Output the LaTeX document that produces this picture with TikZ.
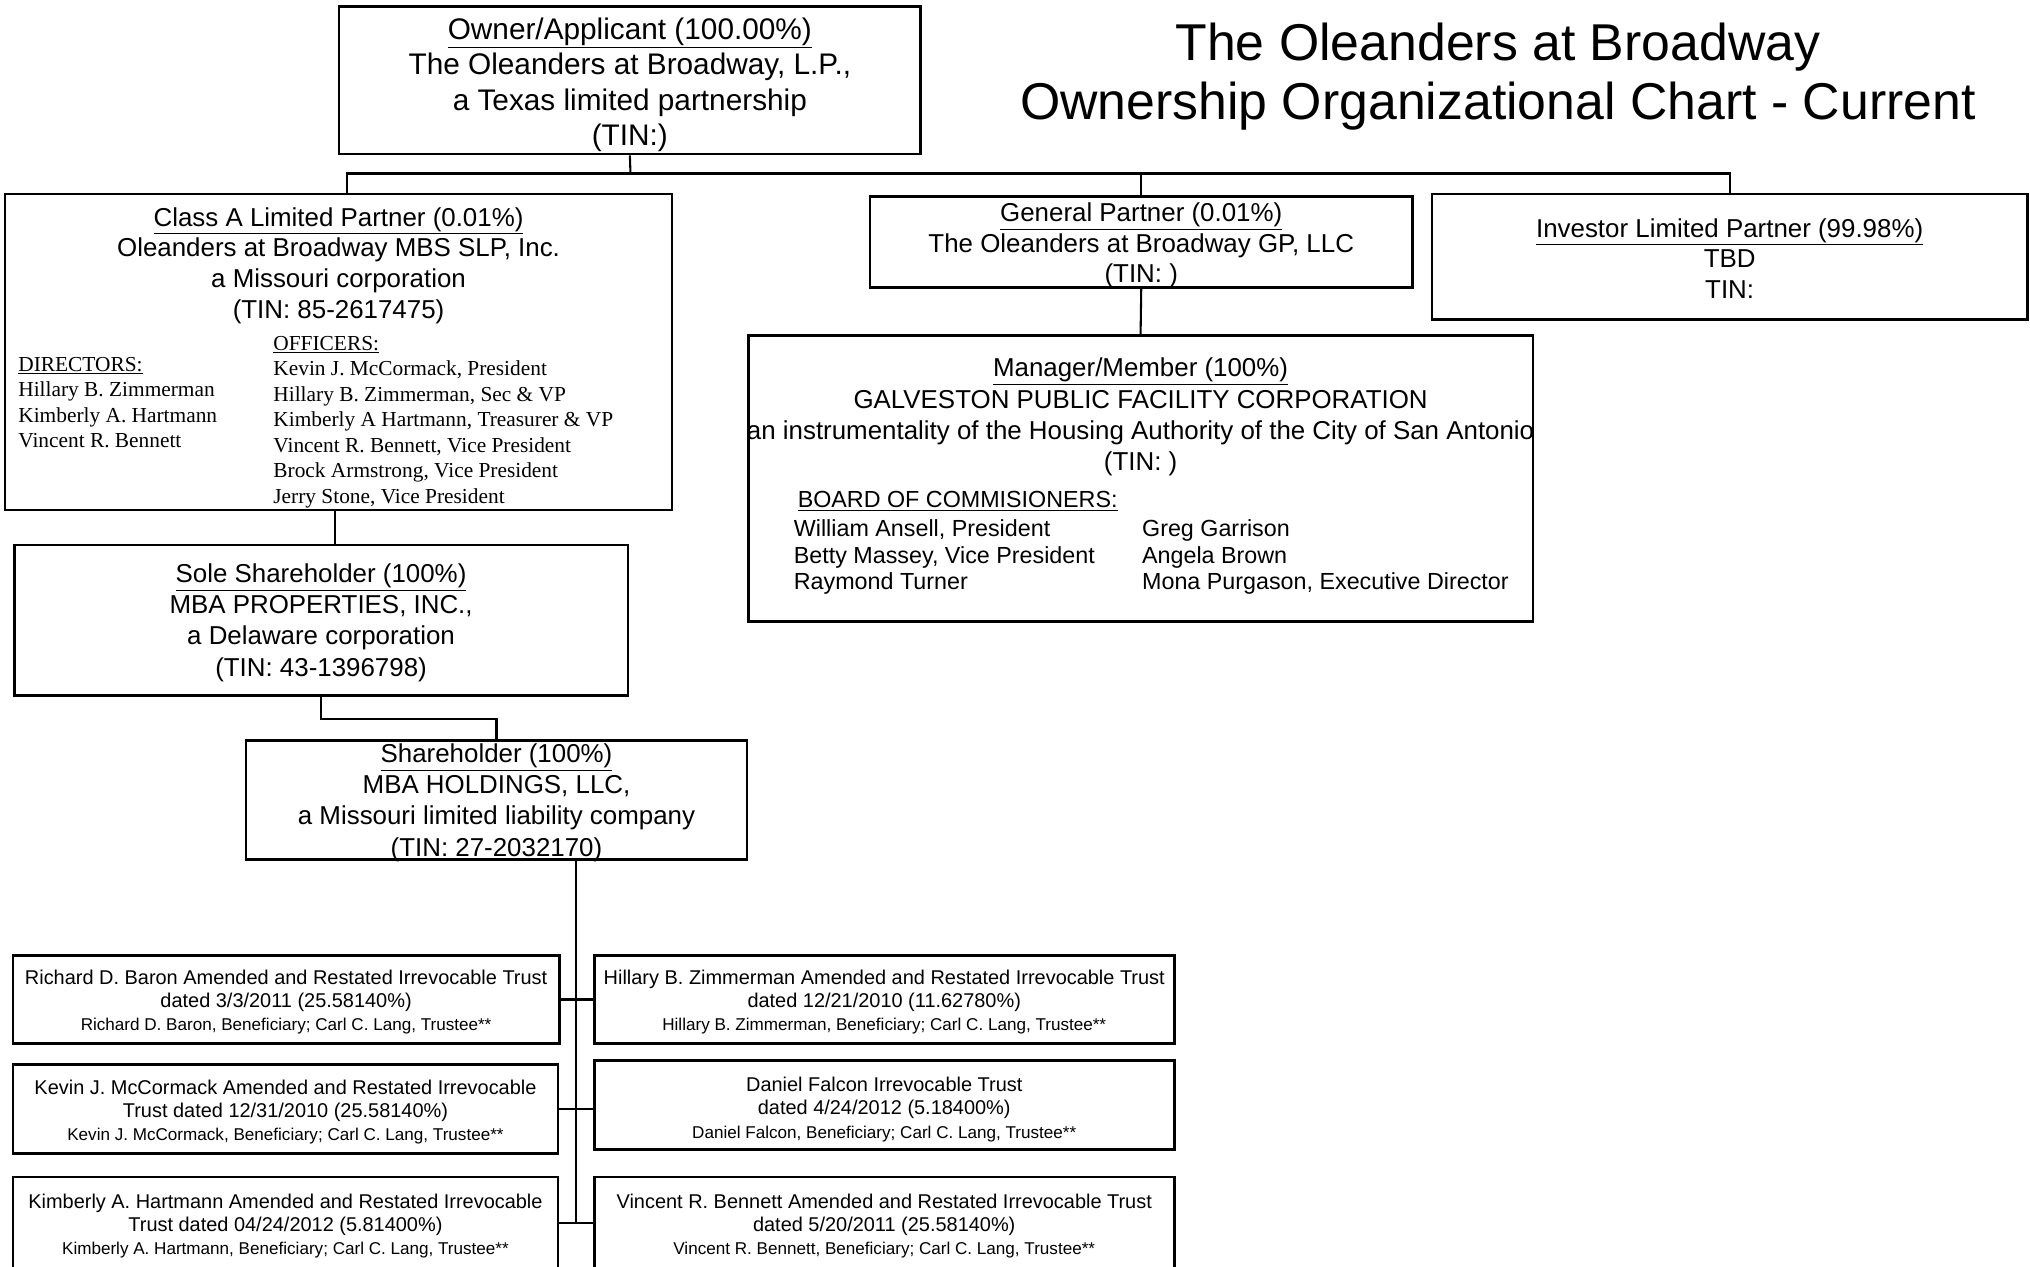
\documentclass[tikz,border=0pt]{standalone}
\usepackage{fontspec}
\setmainfont{Liberation Sans}
\newfontfamily\timesfont{Liberation Serif}
\newcommand{\fsz}[2]{\fontsize{#1}{#2}\selectfont}

\begin{document}
\begin{tikzpicture}[x=1pt,y=-1pt,
	box/.style={draw,line width=2pt,inner sep=0pt},
	txt/.style={inner sep=0pt,align=center},
	wire/.style={line width=1.6pt}]
					%\draw[help lines] (0,0) grid[step=100] (1568,978);
					\useasboundingbox (0,0) rectangle (1568,978);
					\clip (0,0) rectangle (1568,978);
					%TITLE
					\node[txt,font=\fsz{40}{46}] (title) at (1157,59) {The Oleanders at Broadway\\Ownership Organizational Chart - Current};
					%OWNER
					\node[box,minimum width=449,minimum height=114] (owner) at (486.5,62) {};
					\node[txt,font=\fsz{23}{27.3}] (owner-text) at (486.5,65.5) {\underline{Owner/Applicant (100.00\%)}\\The Oleanders at Broadway, L.P.,\\a Texas limited partnership\\(TIN:)};
					%CLASS A LP
					\node[box,minimum width=515,minimum height=244] (classA) at (261.5,272) {};
					\node[txt,font=\fsz{20}{23.7}] (classA-head) at (261.5,205) {\underline{Class A Limited Partner (0.01\%)}\\Oleanders at Broadway MBS SLP, Inc.\\a Missouri corporation\\(TIN: 85-2617475)};
					\node[txt,align=left,anchor=west,font=\timesfont\fsz{16.5}{19.7}] (directors) at (14,311) {\underline{DIRECTORS:}\\Hillary B. Zimmerman\\Kimberly A. Hartmann\\Vincent R. Bennett};
					\node[txt,align=left,anchor=west,font=\timesfont\fsz{16.5}{19.7}] (officers) at (211,326) {\underline{OFFICERS:}\\Kevin J. McCormack, President\\Hillary B. Zimmerman, Sec \& VP\\Kimberly A Hartmann, Treasurer \& VP\\Vincent R. Bennett, Vice President\\Brock Armstrong, Vice President\\Jerry Stone, Vice President};
					%GP + INVESTOR
					\node[box,minimum width=419,minimum height=70] (gp) at (881.5,187) {};
					\node[txt,font=\fsz{20}{23.5}] (gp-text) at (881.5,189.5) {\underline{General Partner (0.01\%)}\\The Oleanders at Broadway GP, LLC\\(TIN: )};
					\node[box,minimum width=460,minimum height=97] (investor) at (1336,198.5) {};
					\node[txt,font=\fsz{20}{23.5}] (investor-text) at (1336,199.5) {\underline{Investor Limited Partner (99.98\%)}\\TBD\\TIN:};
					%MANAGER
					\node[box,minimum width=606,minimum height=221] (manager) at (881,369.5) {};
					\node[txt,font=\fsz{20}{24}] (manager-head) at (881,322) {\underline{Manager/Member (100\%)}\\GALVESTON PUBLIC FACILITY CORPORATION\\an instrumentality of the Housing Authority of the City of San Antonio\\(TIN: )};
					\node[txt,anchor=west,font=\fsz{18}{20.5}] (board) at (616,387) {\underline{BOARD OF COMMISIONERS:}};
					\node[txt,align=left,anchor=west,font=\fsz{18}{20.5}] (board-left) at (613,430.5) {William Ansell, President\\Betty Massey, Vice President\\Raymond Turner};
					\node[txt,align=left,anchor=west,font=\fsz{18}{20.5}] (board-right) at (882,430.5) {Greg Garrison\\Angela Brown\\Mona Purgason, Executive Director};
					%MBA
					\node[box,minimum width=474,minimum height=116] (sole) at (248,479) {};
					\node[txt,font=\fsz{20}{24}] (sole-text) at (248,481) {\underline{Sole Shareholder (100\%)}\\MBA PROPERTIES, INC.,\\a Delaware corporation\\(TIN: 43-1396798)};
					\node[box,minimum width=387,minimum height=92] (holding) at (383.5,618) {};
					\node[txt,font=\fsz{20}{24}] (holding-text) at (383.5,620) {\underline{Shareholder (100\%)}\\MBA HOLDINGS, LLC,\\a Missouri limited liability company\\(TIN: 27-2032170)};
					%TRUSTS
					\node[box,minimum width=422,minimum height=68] (left1) at (221,772) {};
					\node[txt,font=\fsz{15.4}{18}] (left1-text) at (221,774) {Richard D. Baron Amended and Restated Irrevocable Trust\\dated 3/3/2011 (25.58140\%)\\{\fsz{13.2}{15}Richard D. Baron, Beneficiary; Carl C. Lang, Trustee**}};
					\node[box,minimum width=448,minimum height=68] (right1) at (683,772) {};
					\node[txt,font=\fsz{15.4}{18}] (right1-text) at (683,774) {Hillary B. Zimmerman Amended and Restated Irrevocable Trust\\dated 12/21/2010 (11.62780\%)\\{\fsz{13.2}{15}Hillary B. Zimmerman, Beneficiary; Carl C. Lang, Trustee**}};
					\node[box,minimum width=421,minimum height=69] (left2) at (220.5,856.5) {};
					\node[txt,font=\fsz{15.4}{18}] (left2-text) at (220.5,859) {Kevin J. McCormack Amended and Restated Irrevocable\\Trust dated 12/31/2010 (25.58140\%)\\{\fsz{13.2}{15}Kevin J. McCormack, Beneficiary; Carl C. Lang, Trustee**}};
					\node[box,minimum width=448,minimum height=69] (right2) at (683,853.5) {};
					\node[txt,font=\fsz{15.4}{18}] (right2-text) at (683,857) {Daniel Falcon Irrevocable Trust\\dated 4/24/2012 (5.18400\%)\\{\fsz{13.2}{15}Daniel Falcon, Beneficiary; Carl C. Lang, Trustee**}};
					\node[box,minimum width=421,minimum height=72] (left3) at (220.5,945) {};
					\node[txt,font=\fsz{15.4}{18}] (left3-text) at (220.5,947) {Kimberly A. Hartmann Amended and Restated Irrevocable\\Trust dated 04/24/2012 (5.81400\%)\\{\fsz{13.2}{15}Kimberly A. Hartmann, Beneficiary; Carl C. Lang, Trustee**}};
					\node[box,minimum width=448,minimum height=72] (right3) at (683,945) {};
					\node[txt,font=\fsz{15.4}{18}] (right3-text) at (683,947) {Vincent R. Bennett Amended and Restated Irrevocable Trust\\dated 5/20/2011 (25.58140\%)\\{\fsz{13.2}{15}Vincent R. Bennett, Beneficiary; Carl C. Lang, Trustee**}};
					%LINES
					\coordinate (bus) at (487,134);
					\draw[wire] (owner.south) -- (bus);
					\draw[wire] ([xshift=6.5]classA.north) |- (bus) -| (investor.north);
					\draw[wire] (bus -| gp.north) -- (gp.north);
					\draw[wire] (gp.south) -- (manager.north);
					\coordinate (cs) at ([xshift=-2.5]classA.south);
					\draw[wire] (cs) -- (cs |- sole.north);
					\draw[wire] (sole.south) -- ++(0,17) -| (holding.north);
					\coordinate (trunk) at ([xshift=61.5]holding.south);
					\draw[wire] (trunk) -- (trunk |- left3.east);
					\draw[wire] (left1.east) -- (right1.west);
					\draw[wire] (left2.east) -- (left2.east -| right2.west);
					\draw[wire] (left3.east) -- (right3.west);
				  \end{tikzpicture}
\end{document}
